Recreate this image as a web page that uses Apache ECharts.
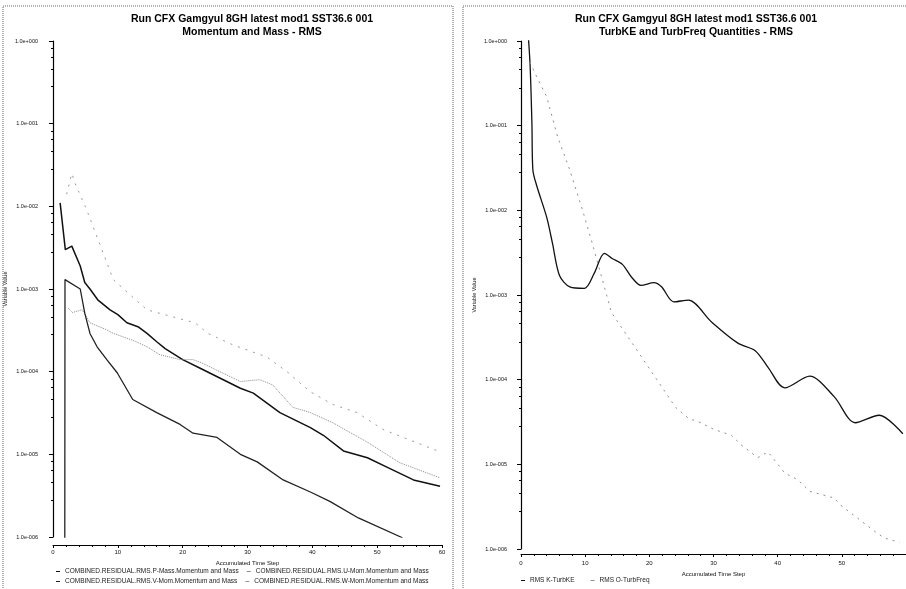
<!DOCTYPE html>
<html>
<head>
<meta charset="utf-8">
<script src="https://cdn.jsdelivr.net/npm/echarts@6/dist/echarts.min.js"></script>
<style>
  html, body { margin: 0; padding: 0; background: #fff; }
  #chart { width: 906px; height: 589px; }
</style>
</head>
<body>
<div id="chart"></div>
<script>
// tick labels, one per decade from 1e-6 up to 1e0
var yTickLabels = ["1.0e-006", "1.0e-005", "1.0e-004", "1.0e-003", "1.0e-002", "1.0e-001", "1.0e+000"];

// left plot: Momentum and Mass, [time step, residual]
var pMass = [[1.1, 1.1e-2], [1.9, 3.0e-3], [2.9, 3.3e-3], [4.2, 1.9e-3], [4.9, 1.2e-3], [5.7, 1.0e-3], [6.9, 7.4e-4],
    [8.8, 5.6e-4], [10.0, 4.9e-4], [11.4, 3.9e-4], [13.1, 3.5e-4], [14.5, 2.9e-4], [16.0, 2.3e-4], [17.3, 1.9e-4],
    [20.0, 1.4e-4], [22.7, 1.1e-4], [28.9, 6.3e-5], [30.9, 5.5e-5], [35.0, 3.2e-5], [39.7, 2.1e-5], [41.7, 1.7e-5],
    [44.8, 1.1e-5], [48.5, 9.1e-6], [51.5, 7.0e-6], [55.6, 4.9e-6], [59.7, 4.1e-6]];
var uMom = [[2.3, 5.9e-4], [3.0, 5.2e-4], [4.5, 5.6e-4], [5.7, 3.9e-4], [8.3, 3.2e-4], [9.3, 2.9e-4], [12.3, 2.4e-4],
    [14.5, 2.0e-4], [16.5, 1.6e-4], [19.6, 1.4e-4], [21.6, 1.4e-4], [22.7, 1.3e-4], [28.9, 7.6e-5], [31.9, 8.0e-5],
    [33.9, 6.9e-5], [37.0, 3.7e-5], [39.7, 3.2e-5], [43.2, 2.4e-5], [48.5, 1.4e-5], [53.5, 7.9e-6], [59.7, 5.2e-6]];
var vMom = [[1.8, 1e-8], [1.85, 1.3e-3], [4.2, 1.0e-3], [4.9, 5.1e-4], [5.7, 2.9e-4], [6.8, 2.0e-4], [8.3, 1.4e-4],
    [9.9, 9.7e-5], [12.3, 4.6e-5], [16.0, 3.2e-5], [19.6, 2.3e-5], [21.6, 1.8e-5], [25.3, 1.6e-5], [28.9, 1.0e-5],
    [31.5, 8.1e-6], [35.5, 4.9e-6], [39.7, 3.5e-6], [42.7, 2.7e-6], [47.1, 1.7e-6], [53.9, 9.8e-7]];
var wMom = [[2.1, 1.4e-2], [2.9, 2.5e-2], [3.4, 1.9e-2], [5.1, 9.5e-3], [9.3, 1.3e-3], [11.4, 9.2e-4], [14.5, 5.6e-4],
    [18.5, 4.6e-4], [21.9, 3.9e-4], [23.9, 2.9e-4], [27.8, 2.1e-4], [33.0, 1.5e-4], [36.1, 1.0e-4], [39.7, 5.7e-5],
    [43.2, 4.0e-5], [46.9, 3.2e-5], [50.9, 2.0e-5], [59.3, 1.1e-5]];

// right plot: TurbKE and TurbFreq
var turbKE = [[0.9, 2.0], [1.4, 0.55], [1.7, 0.107], [1.85, 3.0e-2], [2.5, 1.9e-2], [4.0, 8.3e-3], [4.9, 4.1e-3],
    [6.0, 1.7e-3], [7.6, 1.25e-3], [9.9, 1.2e-3], [11.4, 1.8e-3], [13.0, 3.1e-3], [14.2, 2.7e-3], [15.8, 2.3e-3],
    [17.3, 1.6e-3], [18.7, 1.3e-3], [20.7, 1.4e-3], [21.9, 1.25e-3], [23.8, 8.3e-4], [26.1, 8.7e-4], [29.7, 4.8e-4],
    [33.8, 2.7e-4], [36.5, 2.2e-4], [38.5, 1.4e-4], [41.1, 8.0e-5], [45.0, 1.1e-4], [48.8, 6.3e-5], [52.1, 3.1e-5],
    [55.8, 3.8e-5], [59.5, 2.3e-5]];
var turbFreq = [[1.4, 0.56], [2.5, 0.37], [4.0, 0.22], [5.7, 7.4e-2], [7.6, 3.0e-2], [9.6, 1.0e-2], [11.1, 4.1e-3],
    [12.7, 1.5e-3], [14.1, 6.2e-4], [24.1, 4.7e-5], [26.1, 3.5e-5], [28.0, 3.1e-5], [30.0, 2.6e-5], [32.8, 2.2e-5],
    [34.3, 1.7e-5], [36.9, 1.2e-5], [38.5, 1.4e-5], [41.1, 7.9e-6], [43.1, 6.6e-6], [45.0, 4.8e-6], [48.8, 4.0e-6],
    [49.8, 3.3e-6], [55.2, 1.6e-6], [56.6, 1.35e-6], [59.0, 1.2e-6]];

var names = {
    p: "COMBINED.RESIDUAL.RMS.P-Mass.Momentum and Mass",
    u: "COMBINED.RESIDUAL.RMS.U-Mom.Momentum and Mass",
    v: "COMBINED.RESIDUAL.RMS.V-Mom.Momentum and Mass",
    w: "COMBINED.RESIDUAL.RMS.W-Mom.Momentum and Mass",
    k: "RMS K-TurbKE",
    o: "RMS O-TurbFreq"
};

var font = "Liberation Sans, Arial, sans-serif";

function xAxisOf(gridIndex, offset, margin, showMax) {
    return {
        type: "value", gridIndex: gridIndex, min: 0, max: 60, interval: 10, offset: offset,
        name: "Accumulated Time Step", nameLocation: "middle", nameGap: margin + 8,
        nameTextStyle: { fontSize: 6, color: "#111", fontFamily: font },
        axisLine: { lineStyle: { color: "#000", width: 1 } },
        axisTick: { length: 3, lineStyle: { color: "#000" } },
        minorTick: { show: true, splitNumber: 5, length: 2, lineStyle: { color: "#000" } },
        axisLabel: { fontSize: 6, color: "#111", margin: margin, fontFamily: font, showMaxLabel: showMax },
        splitLine: { show: false }
    };
}

function yAxisOf(gridIndex, offset) {
    return {
        type: "log", logBase: 10, gridIndex: gridIndex, min: 1e-6, max: 1, splitNumber: 6, offset: offset,
        name: "Variable Value", nameLocation: "middle", nameGap: 38,
        nameTextStyle: { fontSize: 5.5, color: "#111", fontFamily: font },
        axisLine: { lineStyle: { color: "#000", width: 1.2 } },
        axisTick: { length: 4, lineStyle: { color: "#000" } },
        minorTick: { show: true, splitNumber: 5, length: 2, lineStyle: { color: "#000" } },
        axisLabel: {
            fontSize: 5.5, color: "#111", margin: 8, fontFamily: font,
            formatter: function (v) { return yTickLabels[Math.round(Math.log10(v)) + 6]; }
        },
        splitLine: { show: false }
    };
}

function line(name, data, xi, color, width, type, smooth) {
    return {
        name: name, type: "line", data: data, xAxisIndex: xi, yAxisIndex: xi,
        showSymbol: false, smooth: smooth || false, clip: true,
        itemStyle: { color: color },
        lineStyle: { color: color, width: width, type: type }
    };
}

var legendBase = {
    icon: "rect", itemWidth: 4, itemHeight: 1, itemGap: 8,
    textStyle: { fontSize: 6.5, color: "#222", fontFamily: font, padding: [0, 0, 0, 0] },
    padding: 0
};

var chart = echarts.init(document.getElementById("chart"));
chart.setOption({
    animation: false,
    backgroundColor: "#fff",
    title: [{
        text: "Run CFX Gamgyul 8GH latest mod1 SST36.6 001\nMomentum and Mass - RMS",
        left: 247, top: 8, textAlign: "center",
        textStyle: { fontSize: 10.5, fontWeight: "bold", lineHeight: 13, color: "#000", fontFamily: font }
    }, {
        text: "Run CFX Gamgyul 8GH latest mod1 SST36.6 001\nTurbKE and TurbFreq Quantities - RMS",
        left: 691, top: 8, textAlign: "center",
        textStyle: { fontSize: 10.5, fontWeight: "bold", lineHeight: 13, color: "#000", fontFamily: font }
    }],
    legend: [
        Object.assign({ left: 56, top: 568, data: [names.p, names.u] }, legendBase),
        Object.assign({ left: 56, top: 578, data: [names.v, names.w] }, legendBase),
        Object.assign({}, legendBase, { left: 521, top: 577, itemGap: 16, data: [names.k, names.o] })
    ],
    grid: [
        { left: 53, right: 464, top: 41, bottom: 52 },
        { left: 521, right: 0, top: 41, bottom: 40 }
    ],
    xAxis: [xAxisOf(0, 8, 4, true), xAxisOf(1, 5, 6, false)],
    yAxis: [yAxisOf(0, 7), yAxisOf(1, 6)],
    series: [
        line(names.p, pMass, 0, "#111", 1.5, "solid"),
        line(names.u, uMom, 0, "#8a8a8a", 1, "dotted"),
        line(names.v, vMom, 0, "#222", 1.3, "solid"),
        line(names.w, wMom, 0, "#9a9a9a", 1, [2, 6]),
        line(names.k, turbKE, 1, "#111", 1.3, "solid", 0.3),
        line(names.o, turbFreq, 1, "#8f8f8f", 1, [2, 5])
    ],
    graphic: [
        { type: "rect", shape: { x: 3, y: 6, width: 450, height: 620 }, silent: true,
          style: { fill: "none", stroke: "#666", lineWidth: 1, lineDash: [1, 1] } },
        { type: "rect", shape: { x: 463, y: 6, width: 470, height: 620 }, silent: true,
          style: { fill: "none", stroke: "#666", lineWidth: 1, lineDash: [1, 1] } }
    ]
});
</script>
</body>
</html>
